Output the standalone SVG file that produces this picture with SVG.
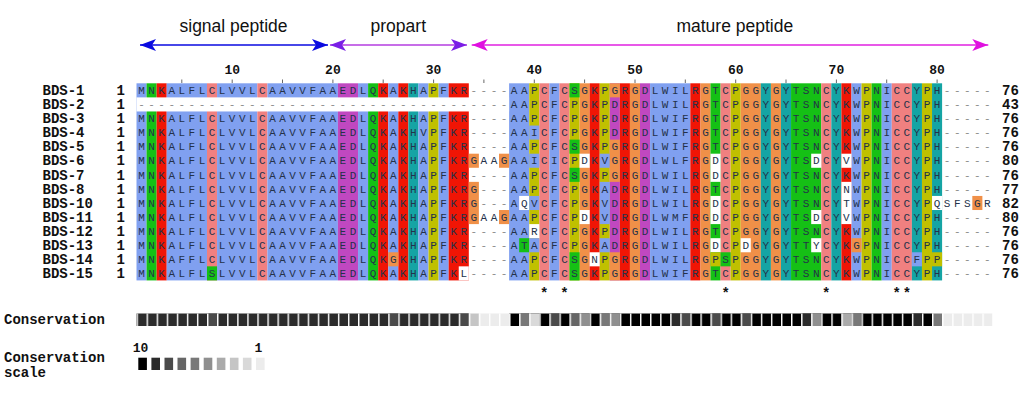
<svg xmlns="http://www.w3.org/2000/svg" width="1024" height="400" viewBox="0 0 1024 400">
<defs>
<style>
.hd{font-family:"Liberation Sans",Arial,sans-serif;font-size:17.5px;fill:#111;text-anchor:middle}
.lb{font-family:"Liberation Mono","Courier New",monospace;font-weight:bold;font-size:14px;fill:#111}
.nm{font-family:"Liberation Mono","Courier New",monospace;font-weight:bold;font-size:13px;fill:#111;text-anchor:middle}
.st{font-family:"Liberation Mono","Courier New",monospace;font-weight:bold;font-size:14px;fill:#111;text-anchor:middle}
.seq{font-family:"Liberation Mono","Courier New",monospace;font-size:11px;letter-spacing:3.469px;fill:#24324a}
.gap{fill:#8a8a8a}
.b{fill:#80a0f0}.r{fill:#f01505}.m{fill:#c048c0}.g{fill:#15c015}.k{fill:#f08080}.o{fill:#f09048}.y{fill:#c0c000}.c{fill:#15a4a4}.w{fill:#fff}
.l10{fill:#000}.l9{fill:#2b2b2b}.l8{fill:#4a4a4a}.l7{fill:#666}.l6{fill:#787878}.l5{fill:#8f8f8f}.l4{fill:#aaa}.l3{fill:#c5c5c5}.l2{fill:#d9d9d9}.l1{fill:#ececec}
</style>
<marker id="ahB" viewBox="0 0 16 12" refX="16" refY="6" markerWidth="16" markerHeight="12" markerUnits="userSpaceOnUse" orient="auto-start-reverse"><path d="M0,0 L16,6 L0,12 L4,6 z" fill="#0a0ae0"/></marker>
<marker id="ahP" viewBox="0 0 16 12" refX="16" refY="6" markerWidth="16" markerHeight="12" markerUnits="userSpaceOnUse" orient="auto-start-reverse"><path d="M0,0 L16,6 L0,12 L4,6 z" fill="#7a1ee6"/></marker>
<marker id="ahM" viewBox="0 0 16 12" refX="16" refY="6" markerWidth="16" markerHeight="12" markerUnits="userSpaceOnUse" orient="auto-start-reverse"><path d="M0,0 L16,6 L0,12 L4,6 z" fill="#e010e0"/></marker>
<pattern id="sep" patternUnits="userSpaceOnUse" width="1" height="1"><rect x="0" y="0" width="0.14" height="1" fill="#fff"/></pattern>
</defs>
<rect width="1024" height="400" fill="#fff"/>

<g id="regions">
<text class="hd" x="233.5" y="32">signal peptide</text>
<text class="hd" x="398.3" y="32">propart</text>
<text class="hd" x="734.8" y="32">mature peptide</text>
<line x1="140" y1="45" x2="328" y2="45" stroke="#0a0ae0" stroke-width="1.3" marker-start="url(#ahB)" marker-end="url(#ahB)"/>
<line x1="330" y1="45" x2="467" y2="45" stroke="#b43ce0" stroke-width="1.3" marker-start="url(#ahP)" marker-end="url(#ahP)"/>
<line x1="471.7" y1="45" x2="988.3" y2="45" stroke="#e020e0" stroke-width="1.3" marker-start="url(#ahM)" marker-end="url(#ahM)"/>
</g>

<g id="ruler">
<text class="nm" x="232.2" y="74">10</text>
<text class="nm" x="332.9" y="74">20</text>
<text class="nm" x="433.6" y="74">30</text>
<text class="nm" x="534.3" y="74">40</text>
<text class="nm" x="635.0" y="74">50</text>
<text class="nm" x="735.7" y="74">60</text>
<text class="nm" x="836.4" y="74">70</text>
<text class="nm" x="937.1" y="74">80</text>
<path d="M181.8 79.5v3.5M232.2 79.5v3.5M282.5 79.5v3.5M332.9 79.5v3.5M383.2 79.5v3.5M433.6 79.5v3.5M483.9 79.5v3.5M534.3 79.5v3.5M584.6 79.5v3.5M635 79.5v3.5M685.3 79.5v3.5M735.7 79.5v3.5M786 79.5v3.5M836.4 79.5v3.5M886.7 79.5v3.5M937.1 79.5v3.5" stroke="#666" stroke-width="1"/>
</g>

<g id="cells" transform="translate(136.5 83.3) scale(10.07 14.08)">
<rect class="b" x="0" y="0" width="1" height="14"/>
<rect class="g" x="1" y="0" width="1" height="14"/>
<rect class="r" x="2" y="0" width="1" height="14"/>
<rect class="b" x="3" y="0" width="4" height="14"/>
<rect class="k" x="7" y="0" width="1" height="14"/>
<rect class="b" x="8" y="0" width="4" height="14"/>
<rect class="k" x="12" y="0" width="1" height="14"/>
<rect class="b" x="13" y="0" width="7" height="14"/>
<rect class="m" x="20" y="0" width="2" height="14"/>
<rect class="b" x="22" y="0" width="1" height="14"/>
<rect class="g" x="23" y="0" width="1" height="14"/>
<rect class="r" x="24" y="0" width="1" height="14"/>
<rect class="b" x="25" y="0" width="1" height="14"/>
<rect class="r" x="26" y="0" width="1" height="14"/>
<rect class="c" x="27" y="0" width="1" height="14"/>
<rect class="b" x="28" y="0" width="1" height="14"/>
<rect class="y" x="29" y="0" width="1" height="14"/>
<rect class="b" x="30" y="0" width="1" height="14"/>
<rect class="r" x="31" y="0" width="2" height="14"/>
<rect class="b" x="37" y="0" width="2" height="14"/>
<rect class="y" x="39" y="0" width="1" height="14"/>
<rect class="k" x="40" y="0" width="1" height="14"/>
<rect class="b" x="41" y="0" width="1" height="14"/>
<rect class="k" x="42" y="0" width="1" height="14"/>
<rect class="y" x="43" y="0" width="1" height="14"/>
<rect class="o" x="44" y="0" width="1" height="14"/>
<rect class="r" x="45" y="0" width="1" height="14"/>
<rect class="y" x="46" y="0" width="1" height="14"/>
<rect class="m" x="47" y="0" width="1" height="14"/>
<rect class="r" x="48" y="0" width="1" height="14"/>
<rect class="o" x="49" y="0" width="1" height="14"/>
<rect class="m" x="50" y="0" width="1" height="14"/>
<rect class="b" x="51" y="0" width="4" height="14"/>
<rect class="r" x="55" y="0" width="1" height="14"/>
<rect class="o" x="56" y="0" width="1" height="14"/>
<rect class="g" x="57" y="0" width="1" height="14"/>
<rect class="k" x="58" y="0" width="1" height="14"/>
<rect class="y" x="59" y="0" width="1" height="14"/>
<rect class="o" x="60" y="0" width="2" height="14"/>
<rect class="c" x="62" y="0" width="1" height="14"/>
<rect class="o" x="63" y="0" width="1" height="14"/>
<rect class="c" x="64" y="0" width="1" height="14"/>
<rect class="g" x="65" y="0" width="3" height="14"/>
<rect class="k" x="68" y="0" width="1" height="14"/>
<rect class="c" x="69" y="0" width="1" height="14"/>
<rect class="r" x="70" y="0" width="1" height="14"/>
<rect class="b" x="71" y="0" width="1" height="14"/>
<rect class="y" x="72" y="0" width="1" height="14"/>
<rect class="g" x="73" y="0" width="1" height="14"/>
<rect class="b" x="74" y="0" width="1" height="14"/>
<rect class="k" x="75" y="0" width="2" height="14"/>
<rect class="c" x="77" y="0" width="1" height="14"/>
<rect class="y" x="78" y="0" width="1" height="14"/>
<rect class="c" x="79" y="0" width="1" height="14"/>
<rect class="w" x="0" y="1" width="37" height="1"/>
<rect class="g" x="7" y="13" width="1" height="1"/>
<rect class="o" x="25" y="12" width="1" height="1"/>
<rect class="w" x="32" y="13" width="1" height="1"/>
<rect class="o" x="33" y="5" width="1" height="1"/>
<rect class="o" x="33" y="7" width="1" height="3"/>
<rect class="o" x="36" y="5" width="1" height="1"/>
<rect class="o" x="36" y="9" width="1" height="1"/>
<rect class="w" x="38" y="8" width="1" height="1"/>
<rect class="g" x="38" y="11" width="1" height="1"/>
<rect class="b" x="39" y="3" width="1" height="1"/>
<rect class="b" x="39" y="5" width="1" height="1"/>
<rect class="b" x="39" y="8" width="1" height="1"/>
<rect class="w" x="39" y="10" width="1" height="1"/>
<rect class="b" x="39" y="11" width="1" height="1"/>
<rect class="g" x="43" y="0" width="1" height="1"/>
<rect class="g" x="43" y="4" width="1" height="1"/>
<rect class="g" x="43" y="6" width="1" height="1"/>
<rect class="g" x="43" y="12" width="1" height="2"/>
<rect class="w" x="44" y="5" width="1" height="1"/>
<rect class="w" x="44" y="9" width="1" height="1"/>
<rect class="w" x="45" y="12" width="1" height="1"/>
<rect class="b" x="46" y="5" width="1" height="1"/>
<rect class="b" x="46" y="7" width="1" height="3"/>
<rect class="b" x="46" y="11" width="1" height="1"/>
<rect class="o" x="47" y="0" width="1" height="1"/>
<rect class="o" x="47" y="4" width="1" height="3"/>
<rect class="o" x="47" y="12" width="1" height="2"/>
<rect class="w" x="57" y="5" width="1" height="2"/>
<rect class="w" x="57" y="8" width="1" height="2"/>
<rect class="w" x="57" y="11" width="1" height="1"/>
<rect class="y" x="57" y="12" width="1" height="1"/>
<rect class="g" x="58" y="12" width="1" height="1"/>
<rect class="w" x="60" y="11" width="1" height="1"/>
<rect class="w" x="67" y="5" width="1" height="1"/>
<rect class="w" x="67" y="9" width="1" height="1"/>
<rect class="w" x="67" y="11" width="1" height="1"/>
<rect class="w" x="70" y="5" width="1" height="1"/>
<rect class="w" x="70" y="7" width="1" height="3"/>
<rect class="o" x="71" y="11" width="1" height="1"/>
<rect class="b" x="77" y="12" width="1" height="1"/>
<rect class="w" x="79" y="8" width="1" height="1"/>
<rect class="y" x="79" y="12" width="1" height="1"/>
<rect class="o" x="83" y="8" width="1" height="1"/>
</g>

<g id="BDS-1"><text class="lb" x="42.5" y="95.0">BDS-1</text><text class="lb" x="116.5" y="95.0">1</text><text class="seq" x="138.23" y="94.0">MNKALFLCLVVLCAAVVFAAEDLQKAKHAPFKR<tspan class="gap">----</tspan>AAPCFCSGKPGRGDLWILRGTCPGGYGYTSNCYKWPNICCYPH<tspan class="gap">-----</tspan></text><text class="lb" x="1002" y="95.0">76</text></g>
<g id="BDS-2"><text class="lb" x="42.5" y="109.1">BDS-2</text><text class="lb" x="116.5" y="109.1">1</text><text class="seq" x="138.23" y="108.1"><tspan class="gap">-------------------------------------</tspan>AAPCFCPGKPDRGDLWILRGTCPGGYGYTSNCYKWPNICCYPH<tspan class="gap">-----</tspan></text><text class="lb" x="1002" y="109.1">43</text></g>
<g id="BDS-3"><text class="lb" x="42.5" y="123.2">BDS-3</text><text class="lb" x="116.5" y="123.2">1</text><text class="seq" x="138.23" y="122.2">MNKALFLCLVVLCAAVVFAAEDLQKAKHAPFKR<tspan class="gap">----</tspan>AAPCFCPGKPDRGDLWIFRGTCPGGYGYTSNCYKWPNICCYPH<tspan class="gap">-----</tspan></text><text class="lb" x="1002" y="123.2">76</text></g>
<g id="BDS-4"><text class="lb" x="42.5" y="137.2">BDS-4</text><text class="lb" x="116.5" y="137.2">1</text><text class="seq" x="138.23" y="136.2">MNKALFLCLVVLCAAVVFAAEDLQKAKHVPFKR<tspan class="gap">----</tspan>AAICFCPGKPDRGDLWIFRGTCPGGYGYTSNCYKWPNICCYPH<tspan class="gap">-----</tspan></text><text class="lb" x="1002" y="137.2">76</text></g>
<g id="BDS-5"><text class="lb" x="42.5" y="151.3">BDS-5</text><text class="lb" x="116.5" y="151.3">1</text><text class="seq" x="138.23" y="150.3">MNKALFLCLVVLCAAVVFAAEDLQKAKHAPFKR<tspan class="gap">----</tspan>AAPCFCSGKPGRGDLWIFRGTCPGGYGYTSNCYKWPNICCYPH<tspan class="gap">-----</tspan></text><text class="lb" x="1002" y="151.3">76</text></g>
<g id="BDS-6"><text class="lb" x="42.5" y="165.4">BDS-6</text><text class="lb" x="116.5" y="165.4">1</text><text class="seq" x="138.23" y="164.4">MNKALFLCLVVLCAAVVFAAEDLQKAKHAPFKRGAAGAAICICPDKVGRGDLWLFRGDCPGGYGYTSDCYVWPNICCYPH<tspan class="gap">-----</tspan></text><text class="lb" x="1002" y="165.4">80</text></g>
<g id="BDS-7"><text class="lb" x="42.5" y="179.5">BDS-7</text><text class="lb" x="116.5" y="179.5">1</text><text class="seq" x="138.23" y="178.5">MNKALFLCLVVLCAAVVFAAEDLQKAKHAPFKR<tspan class="gap">----</tspan>AAPCFCSGKPGRGDLWILRGDCPGGYGYTSNCYKWPNICCYPH<tspan class="gap">-----</tspan></text><text class="lb" x="1002" y="179.5">76</text></g>
<g id="BDS-8"><text class="lb" x="42.5" y="193.6">BDS-8</text><text class="lb" x="116.5" y="193.6">1</text><text class="seq" x="138.23" y="192.6">MNKALFLCLVVLCAAVVFAAEDLQKAKHAPFKRG<tspan class="gap">---</tspan>AAPCFCPGKADRGDLWILRGTCPGGYGYTSNCYNWPNICCYPH<tspan class="gap">-----</tspan></text><text class="lb" x="1002" y="193.6">77</text></g>
<g id="BDS-10"><text class="lb" x="42.5" y="207.6">BDS-10</text><text class="lb" x="116.5" y="207.6">1</text><text class="seq" x="138.23" y="206.6">MNKALFLCLVVLCAAVVFAAEDLQKAKHAPFKRG<tspan class="gap">---</tspan>AQVCFCPGKVDRGDLWILRGDCPGGYGYTSNCYTWPNICCYPQSFSGR</text><text class="lb" x="1002" y="207.6">82</text></g>
<g id="BDS-11"><text class="lb" x="42.5" y="221.7">BDS-11</text><text class="lb" x="116.5" y="221.7">1</text><text class="seq" x="138.23" y="220.7">MNKALFLCLVVLCAAVVFAAEDLQKAKHAPFKRGAAGAAPCFCPDKVDRGDLWMFRGDCPGGYGYTSDCYVWPNICCYPH<tspan class="gap">-----</tspan></text><text class="lb" x="1002" y="221.7">80</text></g>
<g id="BDS-12"><text class="lb" x="42.5" y="235.8">BDS-12</text><text class="lb" x="116.5" y="235.8">1</text><text class="seq" x="138.23" y="234.8">MNKALFLCLVVLCAAVVFAAEDLQKAKHAPFKR<tspan class="gap">----</tspan>AARCFCPGKPDRGDLWILRGTCPGGYGYTSNCYKWPNICCYPH<tspan class="gap">-----</tspan></text><text class="lb" x="1002" y="235.8">76</text></g>
<g id="BDS-13"><text class="lb" x="42.5" y="249.9">BDS-13</text><text class="lb" x="116.5" y="249.9">1</text><text class="seq" x="138.23" y="248.9">MNKALFLCLVVLCAAVVFAAEDLQKAKHAPFKR<tspan class="gap">----</tspan>ATACFCPGKADRGDLWILRGDCPDGYGYTTYCYKGPNICCYPH<tspan class="gap">-----</tspan></text><text class="lb" x="1002" y="249.9">76</text></g>
<g id="BDS-14"><text class="lb" x="42.5" y="264.0">BDS-14</text><text class="lb" x="116.5" y="264.0">1</text><text class="seq" x="138.23" y="263.0">MNKAFFLCLVVLCAAVVFAAEDLQKGKHAPFKR<tspan class="gap">----</tspan>AAPCFCSGNPGRGDLWILRGPSPGGYGYTSNCYKWPNICCFPP<tspan class="gap">-----</tspan></text><text class="lb" x="1002" y="264.0">76</text></g>
<g id="BDS-15"><text class="lb" x="42.5" y="278.0">BDS-15</text><text class="lb" x="116.5" y="278.0">1</text><text class="seq" x="138.23" y="277.0">MNKALFLSLVVLCAAVVFAAEDLQKAKHAPFKL<tspan class="gap">----</tspan>AAPCFCSGKPGRGDLWIFRGTCPGGYGYTSNCYKWPNICCYPH<tspan class="gap">-----</tspan></text><text class="lb" x="1002" y="278.0">76</text></g>

<g id="consensus-stars">
<text class="st" x="544.3" y="297.5">*</text>
<text class="st" x="564.4" y="297.5">*</text>
<text class="st" x="725.6" y="297.5">*</text>
<text class="st" x="826.3" y="297.5">*</text>
<text class="st" x="896.8" y="297.5">*</text>
<text class="st" x="906.9" y="297.5">*</text>
</g>

<g id="conservation">
<text class="lb" x="4" y="323.5">Conservation</text>
<g transform="translate(136.5 313.5) scale(10.07 12.5)">
<rect class="l9" x="0" y="0" width="33" height="1"/>
<rect class="l8" x="7" y="0" width="1" height="1"/>
<rect class="l8" x="25" y="0" width="1" height="1"/>
<rect class="l8" x="32" y="0" width="1" height="1"/>
<rect class="l3" x="33" y="0" width="1" height="1"/>
<rect class="l1" x="34" y="0" width="3" height="1"/>
<rect class="l10" x="37" y="0" width="42" height="1"/>
<rect class="l6" x="38" y="0" width="1" height="1"/>
<rect class="l2" x="39" y="0" width="1" height="1"/>
<rect class="l8" x="41" y="0" width="1" height="1"/>
<rect class="l7" x="43" y="0" width="1" height="1"/>
<rect class="l5" x="44" y="0" width="1" height="1"/>
<rect class="l6" x="46" y="0" width="1" height="1"/>
<rect class="l5" x="47" y="0" width="1" height="1"/>
<rect class="l9" x="53" y="0" width="1" height="1"/>
<rect class="l8" x="54" y="0" width="1" height="1"/>
<rect class="l8" x="57" y="0" width="1" height="1"/>
<rect class="l8" x="60" y="0" width="1" height="1"/>
<rect class="l9" x="66" y="0" width="1" height="1"/>
<rect class="l5" x="67" y="0" width="1" height="1"/>
<rect class="l4" x="70" y="0" width="1" height="1"/>
<rect class="l6" x="71" y="0" width="1" height="1"/>
<rect class="l9" x="77" y="0" width="1" height="1"/>
<rect class="l6" x="79" y="0" width="1" height="1"/>
<rect class="l1" x="80" y="0" width="5" height="1"/>
<rect x="0" y="0" width="85.2" height="1" fill="url(#sep)"/>
</g>
</g>

<g id="conservation-scale">
<text class="lb" x="4" y="361.7">Conservation</text>
<text class="lb" x="4" y="376.7">scale</text>
<text class="nm" x="140.5" y="352.3">10</text>
<text class="nm" x="258.3" y="352.3">1</text>
<rect class="l10" x="138.3" y="357.7" width="8.6" height="12.3"/>
<rect class="l9" x="151.4" y="357.7" width="8.6" height="12.3"/>
<rect class="l8" x="164.5" y="357.7" width="8.6" height="12.3"/>
<rect class="l7" x="177.5" y="357.7" width="8.6" height="12.3"/>
<rect class="l6" x="190.6" y="357.7" width="8.6" height="12.3"/>
<rect class="l5" x="203.7" y="357.7" width="8.6" height="12.3"/>
<rect class="l4" x="216.8" y="357.7" width="8.6" height="12.3"/>
<rect class="l3" x="229.9" y="357.7" width="8.6" height="12.3"/>
<rect class="l2" x="242.9" y="357.7" width="8.6" height="12.3"/>
<rect class="l1" x="256.0" y="357.7" width="8.6" height="12.3"/>
</g>
</svg>
